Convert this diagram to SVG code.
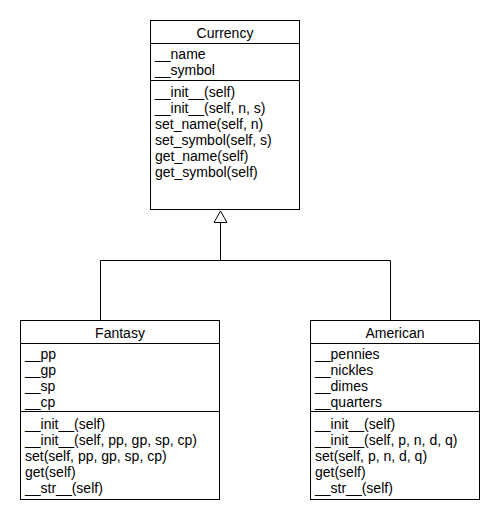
<svg xmlns="http://www.w3.org/2000/svg" width="500" height="520" viewBox="0 0 500 520">
<style>
.box{fill:#fff;stroke:#000;stroke-width:1}
.sep{stroke:#000;stroke-width:1}
text{font-family:"Liberation Sans",Arial,sans-serif;font-size:14px;fill:#000}
.t{text-anchor:middle}
.conn{fill:none;stroke:#000;stroke-width:1}
</style>
<rect width="500" height="520" fill="#fff"/>
<g id="connectors">
<polyline class="conn" points="100.5,320 100.5,260.5 390.5,260.5 390.5,320"/>
<line class="conn" x1="220.5" y1="260.5" x2="220.5" y2="223"/>
<polygon points="220.5,211 214,222.5 227,222.5" fill="#fff" stroke="#000" stroke-width="1"/>
</g>
<g id="Currency">
<rect class="box" x="150.5" y="20.5" width="149" height="189"/>
<line class="sep" x1="150.5" y1="43.5" x2="299.5" y2="43.5"/>
<line class="sep" x1="150.5" y1="80.5" x2="299.5" y2="80.5"/>
<text class="t" x="225" y="38">Currency</text>
<text x="155" y="59">__name</text>
<text x="155" y="75">__symbol</text>
<text x="155" y="97">__init__(self)</text>
<text x="155" y="113">__init__(self, n, s)</text>
<text x="155" y="129">set_name(self, n)</text>
<text x="155" y="145">set_symbol(self, s)</text>
<text x="155" y="161">get_name(self)</text>
<text x="155" y="177">get_symbol(self)</text>
</g>
<g id="Fantasy">
<rect class="box" x="20.5" y="320.5" width="199" height="179"/>
<line class="sep" x1="20.5" y1="343.5" x2="219.5" y2="343.5"/>
<line class="sep" x1="20.5" y1="411.5" x2="219.5" y2="411.5"/>
<text class="t" x="120" y="338">Fantasy</text>
<text x="25" y="359">__pp</text>
<text x="25" y="375">__gp</text>
<text x="25" y="391">__sp</text>
<text x="25" y="407">__cp</text>
<text x="25" y="429">__init__(self)</text>
<text x="25" y="445">__init__(self, pp, gp, sp, cp)</text>
<text x="25" y="461">set(self, pp, gp, sp, cp)</text>
<text x="25" y="477">get(self)</text>
<text x="25" y="493">__str__(self)</text>
</g>
<g id="American">
<rect class="box" x="310.5" y="320.5" width="169" height="179"/>
<line class="sep" x1="310.5" y1="343.5" x2="479.5" y2="343.5"/>
<line class="sep" x1="310.5" y1="411.5" x2="479.5" y2="411.5"/>
<text class="t" x="395" y="338">American</text>
<text x="315" y="359">__pennies</text>
<text x="315" y="375">__nickles</text>
<text x="315" y="391">__dimes</text>
<text x="315" y="407">__quarters</text>
<text x="315" y="429">__init__(self)</text>
<text x="315" y="445">__init__(self, p, n, d, q)</text>
<text x="315" y="461">set(self, p, n, d, q)</text>
<text x="315" y="477">get(self)</text>
<text x="315" y="493">__str__(self)</text>
</g>
</svg>
